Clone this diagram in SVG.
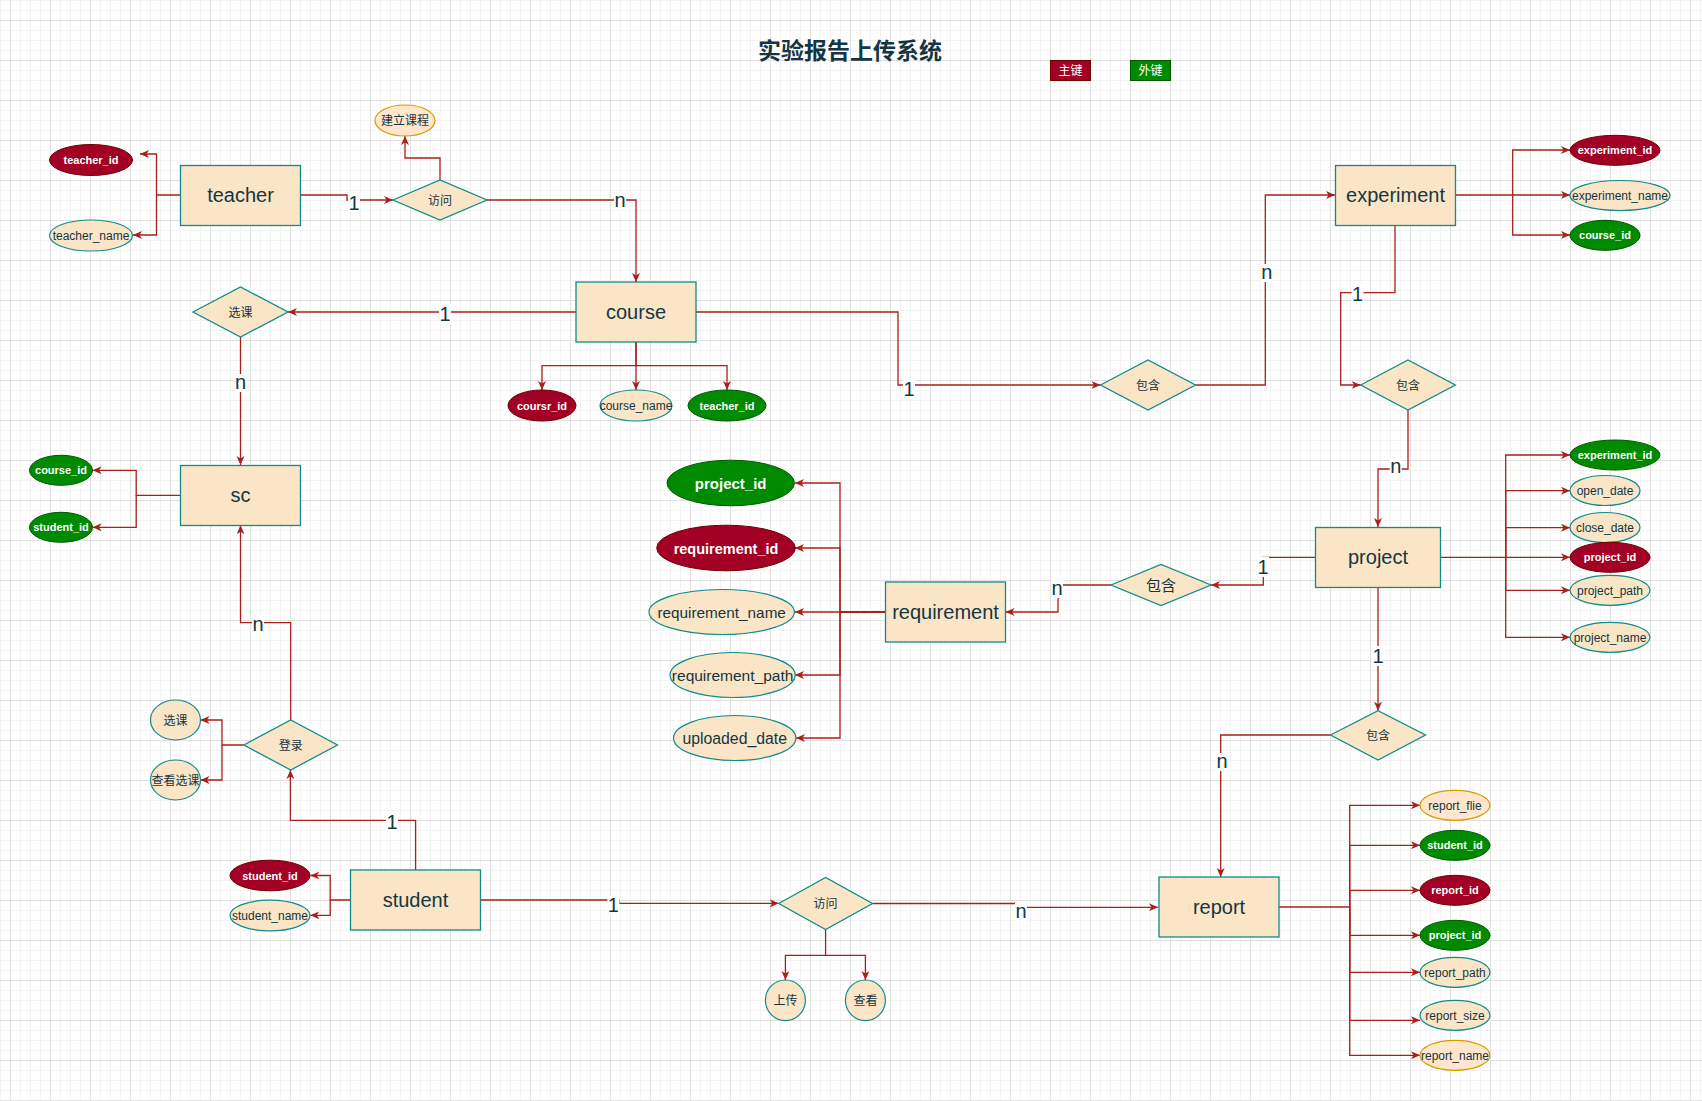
<svg xmlns="http://www.w3.org/2000/svg" width="1702" height="1101" viewBox="0 0 1702 1101">
<defs>
<pattern id="grid" patternUnits="userSpaceOnUse" x="10" y="20" width="40" height="40">
<path d="M10.5,0V40M20.5,0V40M30.5,0V40M0,10.5H40M0,20.5H40M0,30.5H40" stroke="#f3f3f3" stroke-width="1" fill="none"/>
<path d="M0.5,0V40M0,0.5H40" stroke="#e0e0e0" stroke-width="1" fill="none"/>
</pattern>
<marker id="arr" markerUnits="userSpaceOnUse" markerWidth="10" markerHeight="10" refX="9" refY="4" orient="auto">
<path d="M0,0 L9,4 L0,8 L2.5,4 Z" fill="#A8201A"/>
</marker>
<style>
.ent{fill:#FAE5C7;stroke:#0F8B8D;stroke-width:1.3}
.att{fill:#FAE5C7;stroke:#0F8B8D;stroke-width:1.2}
.pk{fill:#A20025;stroke:#6F0000;stroke-width:1}
.fk{fill:#008A00;stroke:#005700;stroke-width:1}
.org{fill:#FFE6CC;stroke:#D79B00;stroke-width:1.2}
.t{font-family:"Liberation Sans",Arial,"Noto Sans CJK SC",sans-serif;fill:#143642;text-anchor:middle}
.c{font-family:"Noto Sans CJK SC","Liberation Sans",sans-serif;fill:#143642;text-anchor:middle}
.w{font-family:"Liberation Sans",Arial,sans-serif;fill:#ffffff;font-weight:bold;text-anchor:middle}
.en{font-size:20px}
.a12{font-size:12px}
.w11{font-size:11px}
.e path{fill:none;stroke:#A8201A;stroke-width:1.3}
.e path.a{marker-end:url(#arr)}
.lb rect{fill:#ffffff}
.lb text{font-family:"Liberation Sans",Arial,sans-serif;font-size:20px;fill:#143642;text-anchor:middle}
</style>
</defs>
<rect x="0" y="0" width="1702" height="1101" fill="#ffffff"/>
<rect x="0" y="0" width="1702" height="1101" fill="url(#grid)"/>

<g id="connectors" class="e">
<path class="a" d="M180,195 H156.5 V154 H140"/>
<path class="a" d="M156.5,195 V235 H133"/>
<path class="a" d="M301,195 H347 V200 H393"/>
<path class="a" d="M440,180 V158 H405 V136"/>
<path class="a" d="M487,200 H636 V282"/>
<path class="a" d="M576,312 H288"/>
<path class="a" d="M240.5,337 V465"/>
<path class="a" d="M636,342 V365.7 H542 V390"/>
<path class="a" d="M636,342 V390"/>
<path class="a" d="M636,365.7 H727 V390"/>
<path class="a" d="M696,312 H898 V385 H1100.5"/>
<path class="a" d="M1195.5,385 H1265.3 V195 H1335"/>
<path class="a" d="M1455,195 H1570"/>
<path class="a" d="M1512.7,195 V150 H1570"/>
<path class="a" d="M1512.7,195 V235 H1570"/>
<path class="a" d="M1395,225 V292.7 H1340.7 V385 H1360.7"/>
<path class="a" d="M1408,410 V469 H1378 V527"/>
<path class="a" d="M1440.7,557.3 H1570"/>
<path class="a" d="M1505.7,557.3 V455 H1570"/>
<path class="a" d="M1505.7,557.3 V490.7 H1570"/>
<path class="a" d="M1505.7,557.3 V527.7 H1570"/>
<path class="a" d="M1505.7,557.3 V590.3 H1570"/>
<path class="a" d="M1505.7,557.3 V637.3 H1570"/>
<path class="a" d="M1315,557.3 H1263.3 V585 H1211"/>
<path class="a" d="M1111,585 H1058 V612 H1005.6"/>
<path d="M885.5,612 H840" style="stroke-width:2"/>
<path class="a" d="M840,612 V483 H795"/>
<path class="a" d="M840,612 V548 H795"/>
<path class="a" d="M840,612 H795"/>
<path class="a" d="M840,612 V675 H795"/>
<path class="a" d="M840,612 V738 H796"/>
<path class="a" d="M1378,587 V710.7"/>
<path class="a" d="M1330.5,735 H1220.7 V877"/>
<path d="M1279,907 H1349.7"/>
<path class="a" d="M1349.7,907 V805.3 H1420"/>
<path class="a" d="M1349.7,907 V845.3 H1420"/>
<path class="a" d="M1349.7,907 V890.3 H1420"/>
<path class="a" d="M1349.7,907 V935.3 H1420"/>
<path class="a" d="M1349.7,907 V972.3 H1420"/>
<path class="a" d="M1349.7,907 V1020.3 H1420"/>
<path class="a" d="M1349.7,907 V1055.3 H1420"/>
<path class="a" d="M480.6,900 H619 V903.3 H778.7"/>
<path class="a" d="M872.5,903.5 H1016 V907.3 H1158"/>
<path class="a" d="M825.6,930 V955.3 H785.4 V980"/>
<path class="a" d="M825.6,955.3 H865.4 V980"/>
<path class="a" d="M350.5,900 H330.2 V875.5 H310.3"/>
<path class="a" d="M330.2,900 V915.3 H310.3"/>
<path class="a" d="M415.6,870 V820.3 H290.4 V770"/>
<path class="a" d="M290.7,720 V622.7 H240.5 V525.3"/>
<path class="a" d="M243.8,745 H222 V720 H200.5"/>
<path class="a" d="M222,745 V780 H200.5"/>
<path class="a" d="M180,495.3 H136.2 V470.3 H92.6"/>
<path class="a" d="M136.2,495.3 V527.3 H92.6"/>
</g>

<g id="edge-labels" class="lb">
<rect x="348" y="192" width="12" height="20"/><text x="354" y="210">1</text>
<rect x="614" y="192" width="12" height="18"/><text x="620" y="207">n</text>
<rect x="439" y="304" width="12" height="20"/><text x="445" y="321">1</text>
<rect x="234.5" y="374" width="12" height="18"/><text x="240.5" y="389">n</text>
<rect x="903" y="379" width="12" height="20"/><text x="909" y="396">1</text>
<rect x="1260.7" y="264" width="12" height="18"/><text x="1266.7" y="279">n</text>
<rect x="1351.5" y="284" width="12" height="20"/><text x="1357.5" y="301">1</text>
<rect x="1389.7" y="458" width="12" height="18"/><text x="1395.7" y="473">n</text>
<rect x="1257" y="557" width="12" height="20"/><text x="1263" y="574">1</text>
<rect x="1051" y="580" width="12" height="18"/><text x="1057" y="595">n</text>
<rect x="1372" y="646" width="12" height="20"/><text x="1378" y="663">1</text>
<rect x="1216" y="753" width="12" height="18"/><text x="1222" y="768">n</text>
<rect x="607.4" y="895" width="12" height="20"/><text x="613.4" y="912">1</text>
<rect x="1015" y="903" width="12" height="18"/><text x="1021" y="918">n</text>
<rect x="386" y="812" width="12" height="20"/><text x="392" y="829">1</text>
<rect x="252" y="616" width="12" height="18"/><text x="258" y="631">n</text>
</g>

<g id="title"><text class="c" x="850" y="59" style="font-size:23px;font-weight:bold">实验报告上传系统</text></g>
<g id="legend-pk"><rect class="pk" x="1050.5" y="60.5" width="40" height="20"/><text class="c" x="1070.5" y="75" style="font-size:12px;fill:#fff">主键</text></g>
<g id="legend-fk"><rect class="fk" x="1130.5" y="60.5" width="40" height="20"/><text class="c" x="1150.5" y="75" style="font-size:12px;fill:#fff">外键</text></g>

<g id="teacher"><rect class="ent" x="180.5" y="165.5" width="120" height="60"/><text class="t en" x="240.5" y="202">teacher</text></g>
<g id="teacher_id"><ellipse class="pk" cx="91" cy="160" rx="41.5" ry="15.5"/><text class="w w11" x="91" y="164">teacher_id</text></g>
<g id="teacher_name"><ellipse class="att" cx="91" cy="235.5" rx="41.5" ry="15.5"/><text class="t a12" x="91" y="240">teacher_name</text></g>
<g id="build_course"><ellipse class="org" cx="405" cy="120.5" rx="30" ry="15.5"/><text class="c a12" x="405" y="125">建立课程</text></g>
<g id="visit_top"><polygon class="ent" points="393,200 440,180 487,200 440,220"/><text class="c a12" x="440" y="204.5">访问</text></g>

<g id="course"><rect class="ent" x="576" y="282" width="120" height="60"/><text class="t en" x="636" y="319">course</text></g>
<g id="coursr_id"><ellipse class="pk" cx="542" cy="405.5" rx="34" ry="15.5"/><text class="w w11" x="542" y="409.5">coursr_id</text></g>
<g id="course_name"><ellipse class="att" cx="636" cy="405.5" rx="36" ry="15.5"/><text class="t a12" x="636" y="410">course_name</text></g>
<g id="course_teacher_id"><ellipse class="fk" cx="727" cy="405.5" rx="39" ry="15.5"/><text class="w w11" x="727" y="409.5">teacher_id</text></g>

<g id="select_course"><polygon class="ent" points="193,312 240.5,287 288,312 240.5,337"/><text class="c a12" x="240.5" y="316.5">选课</text></g>
<g id="sc"><rect class="ent" x="180.5" y="465.5" width="120" height="60"/><text class="t en" x="240.5" y="502">sc</text></g>
<g id="sc_course_id"><ellipse class="fk" cx="61" cy="470.3" rx="31.5" ry="15"/><text class="w w11" x="61" y="474.3">course_id</text></g>
<g id="sc_student_id"><ellipse class="fk" cx="61" cy="527.3" rx="31.5" ry="15"/><text class="w w11" x="61" y="531.3">student_id</text></g>

<g id="login"><polygon class="ent" points="243.8,745 290.7,720 337.5,745 290.7,770"/><text class="c a12" x="290.7" y="749.5">登录</text></g>
<g id="op_select"><ellipse class="att" cx="175.5" cy="720" rx="25" ry="20"/><text class="c a12" x="175.5" y="724.5">选课</text></g>
<g id="op_view_select"><ellipse class="att" cx="175.5" cy="780" rx="25" ry="20"/><text class="c a12" x="175.5" y="784.5">查看选课</text></g>

<g id="student"><rect class="ent" x="350.5" y="870" width="130" height="60"/><text class="t en" x="415.5" y="907">student</text></g>
<g id="student_id"><ellipse class="pk" cx="270" cy="875.5" rx="40" ry="15.3"/><text class="w w11" x="270" y="879.5">student_id</text></g>
<g id="student_name"><ellipse class="att" cx="270" cy="915.5" rx="40" ry="15.3"/><text class="t a12" x="270" y="920">student_name</text></g>

<g id="visit_bottom"><polygon class="ent" points="778.7,903.5 825.6,877.5 872.5,903.5 825.6,929.5"/><text class="c a12" x="825.6" y="908">访问</text></g>
<g id="upload"><ellipse class="att" cx="785.4" cy="1000.3" rx="20" ry="20.3"/><text class="c a12" x="785.4" y="1004.8">上传</text></g>
<g id="view"><ellipse class="att" cx="865.4" cy="1000.3" rx="20" ry="20.3"/><text class="c a12" x="865.4" y="1004.8">查看</text></g>

<g id="report"><rect class="ent" x="1159" y="877" width="120" height="60"/><text class="t en" x="1219" y="914">report</text></g>
<g id="report_flie"><ellipse class="org" cx="1455" cy="805.3" rx="35" ry="15"/><text class="t a12" x="1455" y="809.8">report_flie</text></g>
<g id="report_student_id"><ellipse class="fk" cx="1455" cy="845.3" rx="35" ry="15"/><text class="w w11" x="1455" y="849.3">student_id</text></g>
<g id="report_id"><ellipse class="pk" cx="1455" cy="890.3" rx="35" ry="15"/><text class="w w11" x="1455" y="894.3">report_id</text></g>
<g id="report_project_id"><ellipse class="fk" cx="1455" cy="935.3" rx="35" ry="15"/><text class="w w11" x="1455" y="939.3">project_id</text></g>
<g id="report_path"><ellipse class="att" cx="1455" cy="972.3" rx="35" ry="15"/><text class="t a12" x="1455" y="976.8">report_path</text></g>
<g id="report_size"><ellipse class="att" cx="1455" cy="1015.3" rx="35" ry="15"/><text class="t a12" x="1455" y="1019.8">report_size</text></g>
<g id="report_name"><ellipse class="org" cx="1455" cy="1055.3" rx="35" ry="15"/><text class="t a12" x="1455" y="1059.8">report_name</text></g>

<g id="contain_report"><polygon class="ent" points="1330.5,735 1378,710.7 1425.5,735 1378,760"/><text class="c a12" x="1378" y="739.5">包含</text></g>

<g id="project"><rect class="ent" x="1315.5" y="527.5" width="125" height="60"/><text class="t en" x="1378" y="564">project</text></g>
<g id="project_experiment_id"><ellipse class="fk" cx="1615" cy="455" rx="45" ry="15"/><text class="w w11" x="1615" y="459">experiment_id</text></g>
<g id="open_date"><ellipse class="att" cx="1605" cy="490.5" rx="35" ry="15"/><text class="t a12" x="1605" y="495">open_date</text></g>
<g id="close_date"><ellipse class="att" cx="1605" cy="527.5" rx="35" ry="15"/><text class="t a12" x="1605" y="532">close_date</text></g>
<g id="project_id"><ellipse class="pk" cx="1610" cy="557.3" rx="40" ry="15"/><text class="w w11" x="1610" y="561.3">project_id</text></g>
<g id="project_path"><ellipse class="att" cx="1610" cy="590.3" rx="40" ry="15"/><text class="t a12" x="1610" y="594.8">project_path</text></g>
<g id="project_name"><ellipse class="att" cx="1610" cy="637.3" rx="40" ry="15"/><text class="t a12" x="1610" y="641.8">project_name</text></g>

<g id="contain_project"><polygon class="ent" points="1360.7,385 1408,360 1455.3,385 1408,410"/><text class="c a12" x="1408" y="389.5">包含</text></g>

<g id="experiment"><rect class="ent" x="1335.5" y="165.5" width="120" height="60"/><text class="t en" x="1395.5" y="202">experiment</text></g>
<g id="experiment_id"><ellipse class="pk" cx="1615" cy="150.3" rx="45" ry="15"/><text class="w w11" x="1615" y="154.3">experiment_id</text></g>
<g id="experiment_name"><ellipse class="att" cx="1620" cy="195.5" rx="50" ry="15"/><text class="t a12" x="1620" y="200">experiment_name</text></g>
<g id="experiment_course_id"><ellipse class="fk" cx="1605" cy="235.3" rx="35" ry="15"/><text class="w w11" x="1605" y="239.3">course_id</text></g>

<g id="contain_experiment"><polygon class="ent" points="1100.5,385 1148,360 1195.5,385 1148,410"/><text class="c a12" x="1148" y="389.5">包含</text></g>

<g id="contain_requirement"><polygon class="ent" points="1111,585 1161,564.5 1211,585 1161,605.5"/><text class="c" x="1161" y="590.5" style="font-size:15px">包含</text></g>
<g id="requirement"><rect class="ent" x="885.5" y="582" width="120" height="60"/><text class="t en" x="945.5" y="619">requirement</text></g>
<g id="req_project_id"><ellipse class="fk" cx="730.7" cy="483" rx="63.7" ry="22.8"/><text class="w" x="730.7" y="488.5" style="font-size:15px">project_id</text></g>
<g id="requirement_id"><ellipse class="pk" cx="726" cy="548" rx="69.3" ry="22.8"/><text class="w" x="726" y="553.5" style="font-size:14.5px">requirement_id</text></g>
<g id="requirement_name"><ellipse class="att" cx="721.7" cy="612" rx="72.7" ry="22.5"/><text class="t" x="721.7" y="617.5" style="font-size:15.3px">requirement_name</text></g>
<g id="requirement_path"><ellipse class="att" cx="732.6" cy="675" rx="62.6" ry="22.5"/><text class="t" x="732.6" y="680.5" style="font-size:15.5px">requirement_path</text></g>
<g id="uploaded_date"><ellipse class="att" cx="734.7" cy="738" rx="61.2" ry="22.5"/><text class="t" x="734.7" y="743.5" style="font-size:15.8px">uploaded_date</text></g>
</svg>
